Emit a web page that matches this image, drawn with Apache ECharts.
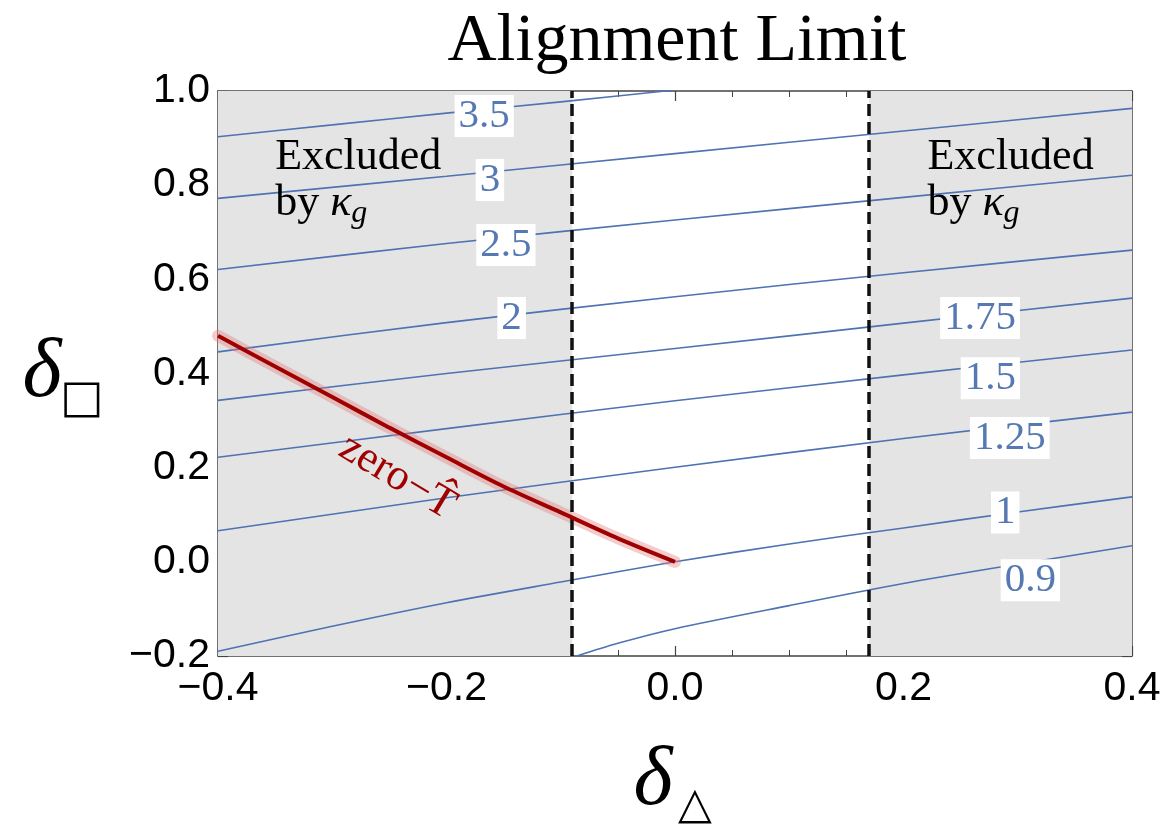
<!DOCTYPE html>
<html><head><meta charset="utf-8">
<script src="https://cdn.jsdelivr.net/npm/echarts@6/dist/echarts.min.js"></script>
<style>html,body{margin:0;padding:0;background:#fff}#c{width:1168px;height:825px}</style>
</head><body><div id="c"></div>
<script>
// ---- data ----
const xRange = [-0.4, 0.4];
const yRange = [-0.2, 1.0];
const tickStep = 0.2;
const excludedLeft = [-0.4, -0.09];
const excludedRight = [0.17, 0.4];
const kappaBounds = [-0.09, 0.17];

const contourLevels = ['3.5', '3', '2.5', '2', '1.75', '1.5', '1.25', '1', '0.9'];
const c35  = [[-0.4,0.903],[-0.3,0.928],[-0.2,0.953],[-0.1,0.977],[0.0,1.002]];
const c3   = [[-0.4,0.772],[-0.2,0.819],[0.0,0.867],[0.2,0.915],[0.4,0.963]];
const c25  = [[-0.4,0.621],[-0.2,0.676],[0.0,0.726],[0.2,0.774],[0.4,0.821]];
const c2   = [[-0.4,0.446],[-0.2,0.508],[0.0,0.563],[0.2,0.614],[0.4,0.662]];
const c175 = [[-0.4,0.343],[-0.2,0.400],[0.0,0.453],[0.2,0.507],[0.4,0.560]];
const c15  = [[-0.4,0.222],[-0.2,0.283],[0.0,0.342],[0.2,0.397],[0.4,0.450]];
const c125 = [[-0.4,0.066],[-0.2,0.136],[0.0,0.201],[0.2,0.262],[0.4,0.318]];
const c1   = [[-0.4,-0.190],[-0.3,-0.137],[-0.2,-0.087],[-0.1,-0.043],[0.0,0.0],[0.1,0.038],[0.2,0.072],[0.3,0.106],[0.4,0.138]];
const c09  = [[-0.086,-0.2],[-0.05,-0.173],[0.0,-0.142],[0.1,-0.093],[0.2,-0.046],[0.3,-0.005],[0.4,0.034]];
const contours = [c35, c3, c25, c2, c175, c15, c125, c1, c09];
const contourLabelPos = [[-0.167,0.947],[-0.162,0.811],[-0.148,0.673],[-0.143,0.518],[0.267,0.518],[0.276,0.390],[0.293,0.263],[0.289,0.105],[0.311,-0.039]];

const zeroT = [[-0.4,0.48],[-0.35,0.415],[-0.3,0.35],[-0.25,0.285],[-0.2,0.222],[-0.15,0.16],[-0.1,0.105],[-0.05,0.05],[0.0,0.0]];
const zeroTLabelPos = [-0.243, 0.180];
const zeroTText = 'zero\u2212T\u0302';
const excludedPosLeft = [-0.35, 0.906];
const excludedPosRight = [0.221, 0.906];

// ---- chart ----
const SERIF = '"Liberation Serif", "Times New Roman", serif';
const SANS = '"Liberation Sans", Arial, sans-serif';
const LINE_BLUE = '#4f72b3';
const LABEL_BLUE = '#5679b3';
const FRAME = '#444';

const fmt = v => Math.abs(v) < 1e-9 ? '0.0' : (v < 0 ? '\u2212' : '') + Math.abs(v).toFixed(1);

const chart = echarts.init(document.getElementById('c'), null, {renderer: 'canvas'});

function axisCommon(showLabel, isX) {
  return {
    type: 'value',
    min: isX ? xRange[0] : yRange[0],
    max: isX ? xRange[1] : yRange[1],
    interval: tickStep,
    axisLine: {show: true, onZero: false, lineStyle: {color: FRAME, width: 1.5}},
    axisTick: {show: true, inside: true, length: 10, lineStyle: {color: FRAME, width: 1.2}},
    minorTick: {show: true, splitNumber: 4, length: 6, lineStyle: {color: FRAME, width: 1}},
    splitLine: {show: false},
    minorSplitLine: {show: false},
    axisLabel: {show: showLabel, formatter: fmt, color: '#000', fontFamily: SANS, fontSize: 41, margin: isX ? 12 : 8}
  };
}

const series = [];
// excluded regions background
series.push({
  type: 'line', data: [[xRange[0], yRange[0]]], symbol: 'none', lineStyle: {opacity: 0}, z: 1, silent: true,
  markArea: {silent: true, itemStyle: {color: '#e4e4e4', opacity: 1},
    data: [[{xAxis: excludedLeft[0]}, {xAxis: excludedLeft[1]}], [{xAxis: excludedRight[0]}, {xAxis: excludedRight[1]}]]}
});
contours.forEach((d, i) => {
  series.push({type: 'line', data: d, symbol: 'none', smooth: 0.3, clip: true, z: 3, silent: true,
    lineStyle: {color: LINE_BLUE, width: 1.6}});
});
// zero-T band and line
series.push({type: 'line', data: zeroT, symbol: 'none', smooth: 0.3, z: 4, silent: true,
  lineStyle: {color: 'rgba(228,120,120,0.38)', width: 12, cap: 'round'}});
series.push({type: 'line', data: zeroT, symbol: 'none', smooth: 0.3, z: 5, silent: true,
  lineStyle: {color: '#a00000', width: 4}});
// dashed kappa bounds
series.push({
  type: 'line', data: [[xRange[0], yRange[0]]], symbol: 'none', lineStyle: {opacity: 0}, z: 6, silent: true,
  markLine: {silent: true, symbol: ['none', 'none'], label: {show: false},
    lineStyle: {color: '#111', width: 3.5, type: [12, 6], opacity: 1},
    data: kappaBounds.map(v => ({xAxis: v}))}
});
// contour labels
series.push({
  type: 'scatter', symbolSize: 0, z: 7, silent: true, itemStyle: {opacity: 1},
  data: contourLabelPos.map((p, i) => ({value: p, name: contourLevels[i]})),
  label: {show: true, position: 'inside', formatter: p => p.name, color: LABEL_BLUE, opacity: 1,
    fontFamily: SERIF, fontSize: 41, backgroundColor: '#fff', padding: [1, 4, 0, 4]}
});
// zero-T label
series.push({
  type: 'scatter', symbolSize: 0, z: 7, silent: true, itemStyle: {opacity: 1},
  data: [{value: zeroTLabelPos, name: zeroTText}],
  label: {show: true, position: 'inside', formatter: p => p.name, color: '#a00000', opacity: 1,
    fontFamily: SERIF, fontSize: 44, rotate: -31}
});
// Excluded by kappa_g labels
const exclRich = {
  n: {fontFamily: SERIF, fontSize: 44, color: '#000', lineHeight: 46, verticalAlign: 'top'},
  i: {fontFamily: SERIF, fontSize: 44, fontStyle: 'italic', color: '#000', lineHeight: 46, verticalAlign: 'top'},
  s: {fontFamily: SERIF, fontSize: 32, fontStyle: 'italic', color: '#000', lineHeight: 46, verticalAlign: 'top', padding: [16, 0, 0, 0]}
};
series.push({
  type: 'scatter', symbolSize: 0, z: 7, silent: true, itemStyle: {opacity: 1},
  data: [{value: excludedPosLeft}, {value: excludedPosRight}],
  label: {show: true, position: 'right', distance: 0, align: 'left', verticalAlign: 'top', opacity: 1,
    formatter: '{n|Excluded}\n{n|by }{i|\u03BA}{s|g}', rich: exclRich}
});

const option = {
  animation: false,
  backgroundColor: '#fff',
  grid: {left: 218, right: 36, top: 91, bottom: 169, containLabel: false},
  xAxis: [Object.assign(axisCommon(true, true), {position: 'bottom'}),
          Object.assign(axisCommon(false, true), {position: 'top'})],
  yAxis: [Object.assign(axisCommon(true, false), {position: 'left'}),
          Object.assign(axisCommon(false, false), {position: 'right'})],
  series: series,
  graphic: [
    {type: 'text', x: 677, y: 42, style: {text: 'Alignment Limit', font: '68px ' + SERIF, fill: '#000', align: 'center', verticalAlign: 'middle'}},
    {type: 'text', x: 42, y: 374, style: {text: '\u03B4', font: 'italic 84px ' + SERIF, fill: '#000', align: 'center', verticalAlign: 'middle'}},
    {type: 'text', x: 82, y: 400, style: {text: '\u25A1', font: '46px "DejaVu Sans"', fill: '#000', align: 'center', verticalAlign: 'middle'}},
    {type: 'text', x: 653, y: 782, style: {text: '\u03B4', font: 'italic 84px ' + SERIF, fill: '#000', align: 'center', verticalAlign: 'middle'}},
    {type: 'text', x: 695, y: 807, style: {text: '\u25B3', font: '44px "DejaVu Sans"', fill: '#000', align: 'center', verticalAlign: 'middle'}}
  ]
};
chart.setOption(option);
</script></body></html>
